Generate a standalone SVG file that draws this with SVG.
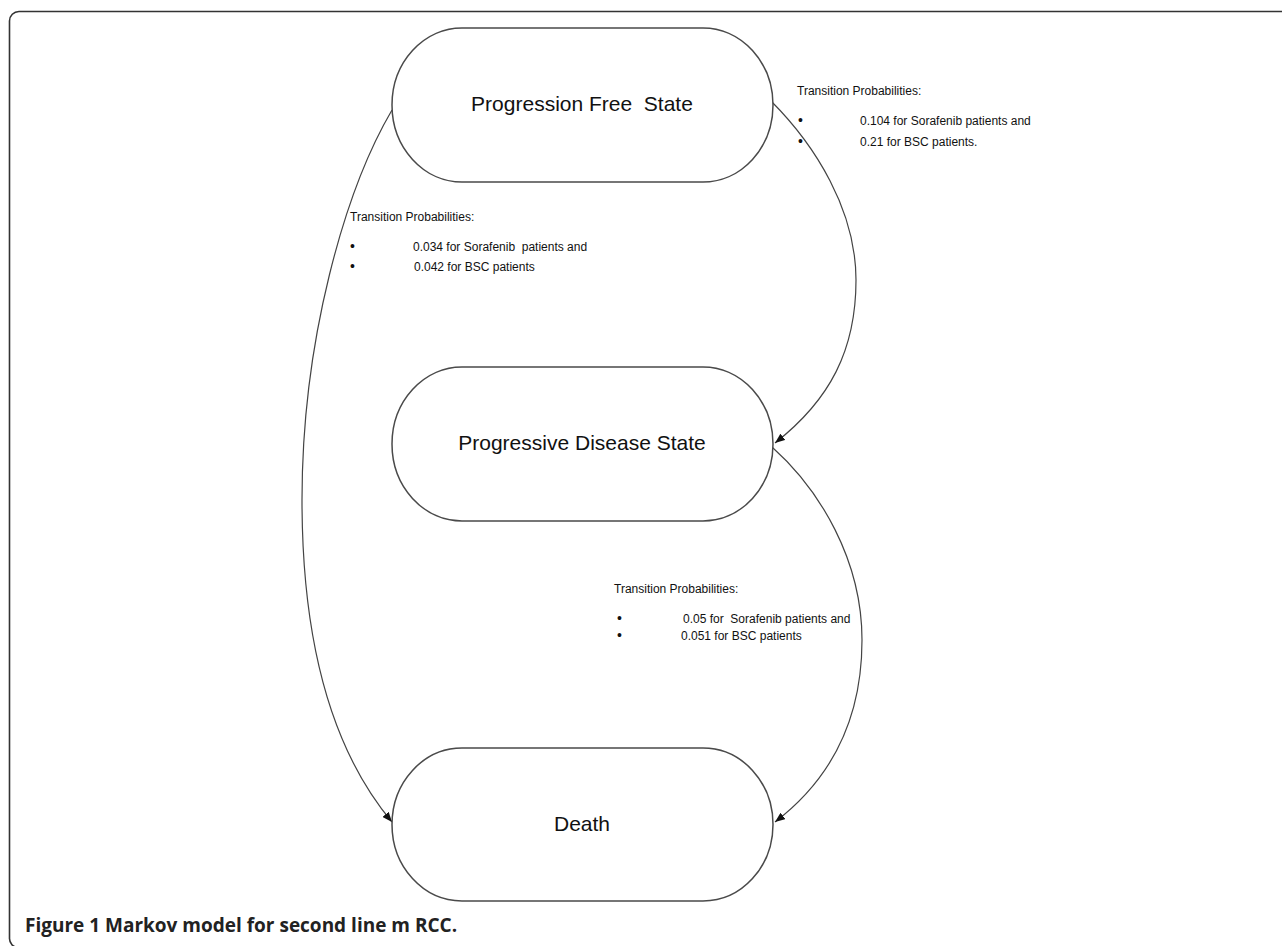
<svg xmlns="http://www.w3.org/2000/svg" width="1282" height="946" viewBox="0 0 1282 946">
<style>
text{white-space:pre}
.node{fill:#fff;stroke:#4a4a4a;stroke-width:1.5}
.lbl{font-family:"Liberation Sans",Arial,sans-serif;font-size:21px;fill:#111;text-anchor:middle}
.tp{font-family:"Liberation Sans",Arial,sans-serif;font-size:12px;fill:#111}
.bul{font-family:"Liberation Sans",Arial,sans-serif;font-size:14px;fill:#111}
.edge{fill:none;stroke:#444;stroke-width:1.2}
.cap{font-family:"Open Sans","Liberation Sans",sans-serif;font-size:19px;font-weight:bold;fill:#222}
</style>
<defs>
<marker id="ah" viewBox="0 0 10 8" refX="10" refY="4" markerWidth="10" markerHeight="8" markerUnits="userSpaceOnUse" orient="auto">
<path d="M0,0 L10,4 L0,8 Z" fill="#111"/>
</marker>
</defs>
<rect width="1282" height="946" fill="#fff"/>
<path d="M1283,11.5 H19 A9.5,9.5 0 0 0 9.5,21 V938 A9,9 0 0 0 18.5,947.5 H1283" fill="none" stroke="#333" stroke-width="1.6"/>
<g id="connectors">
<path class="edge" d="M771,101 C815,145 856,210 856,280 C856,350 830,400 775,443" marker-end="url(#ah)"/>
<path class="edge" d="M392,110 C345,190 302,340 302,500 C302,660 340,760 392,822" marker-end="url(#ah)"/>
<path class="edge" d="M772,447 C820,490 862,560 862,640 C862,720 830,780 775,822" marker-end="url(#ah)"/>
</g>
<g id="node-pfs">
<rect class="node" x="392" y="28" width="381" height="154" rx="70" ry="77"/>
<text class="lbl" x="582" y="111" xml:space="preserve">Progression Free  State</text>
</g>
<g id="node-pd">
<rect class="node" x="392" y="367" width="381" height="154" rx="70" ry="77"/>
<text class="lbl" x="582" y="450">Progressive Disease State</text>
</g>
<g id="node-death">
<rect class="node" x="392" y="748" width="381" height="153" rx="70" ry="77"/>
<text class="lbl" x="582" y="831">Death</text>
</g>
<g id="label-1">
<text class="tp" x="797" y="95">Transition Probabilities:</text>
<text class="bul" x="798" y="125">•</text>
<text class="tp" x="860" y="125">0.104 for Sorafenib patients and</text>
<text class="bul" x="798" y="146">•</text>
<text class="tp" x="860" y="146">0.21 for BSC patients.</text>
</g>
<g id="label-2">
<text class="tp" x="350" y="221">Transition Probabilities:</text>
<text class="bul" x="350" y="251">•</text>
<text class="tp" x="413" y="251" xml:space="preserve">0.034 for Sorafenib  patients and</text>
<text class="bul" x="350" y="271">•</text>
<text class="tp" x="414" y="271">0.042 for BSC patients</text>
</g>
<g id="label-3">
<text class="tp" x="614" y="593">Transition Probabilities:</text>
<text class="bul" x="617" y="623">•</text>
<text class="tp" x="683" y="623" xml:space="preserve">0.05 for  Sorafenib patients and</text>
<text class="bul" x="617" y="640">•</text>
<text class="tp" x="681" y="640">0.051 for BSC patients</text>
</g>
<text class="cap" x="25" y="932">Figure 1 Markov model for second line m RCC.</text>
</svg>
